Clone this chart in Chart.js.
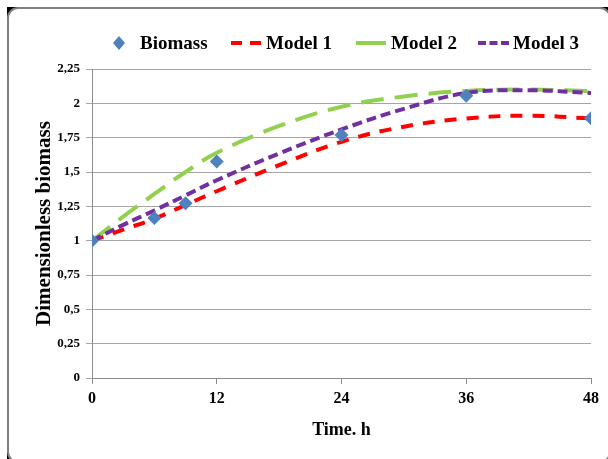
<!DOCTYPE html>
<html>
<head>
<meta charset="utf-8">
<script src="https://cdn.jsdelivr.net/npm/chart.js@4.4.1/dist/chart.umd.min.js"></script>
<style>
  html, body { margin: 0; padding: 0; background: #fff; }
  body { width: 608px; height: 459px; position: relative; overflow: hidden; }
  #frame { position: absolute; left: 7px; top: 7px; width: 604px; height: 456px; background: #000; }
  #frame .inner { width: 100%; height: 100%; box-sizing: border-box; background: #fff;
                  border: 2px solid #808080; border-radius: 11px; }
  #wrap { position: absolute; left: 0; top: 0; width: 608px; height: 459px; }
</style>
</head>
<body>
<div id="frame"><div class="inner"></div></div>
<div id="wrap"><canvas id="chart" width="608" height="459"></canvas></div>
<script>
// measured biomass (diamonds)
const hours = [0, 6, 9, 12, 24, 36, 48];
const biomass = [1.0, 1.165, 1.272, 1.577, 1.77, 2.056, 1.891];

// model curves
const modelHours = [0, 3, 6, 9, 12, 18, 24, 30, 36, 42, 48];
const model1 = [1.0, 1.08, 1.16, 1.26, 1.36, 1.55, 1.72, 1.83, 1.89, 1.91, 1.89];
const model2 = [1.0, 1.175, 1.34, 1.5, 1.64, 1.835, 1.975, 2.05, 2.09, 2.10, 2.09];
const model3 = [1.0, 1.115, 1.22, 1.33, 1.44, 1.635, 1.81, 1.96, 2.075, 2.095, 2.075];

const xTicks = [0, 12, 24, 36, 48];
const yTicks = [0, 0.25, 0.5, 0.75, 1, 1.25, 1.5, 1.75, 2, 2.25];
const seriesNames = ['Biomass', 'Model 1', 'Model 2', 'Model 3'];

const SERIF = "'Liberation Serif', 'Times New Roman', serif";
const BLUE = '#4F81BD', RED = '#FF0000', GREEN = '#92D050', PURPLE = '#7030A0';

const pts = (xs, ys) => xs.map((x, i) => ({ x: x, y: ys[i] }));

// legend drawn by hand so spacing matches the original
const legendPlugin = {
    id: 'topLegend',
    afterDraw(chart) {
        const ctx = chart.ctx;
        const y = 43;
        const items = [
            { sx: 113, ex: 125, text: 140 },
            { sx: 231, ex: 262, text: 266 },
            { sx: 356, ex: 386, text: 391 },
            { sx: 478, ex: 509, text: 513 }
        ];
        ctx.save();
        ctx.font = 'bold 19px ' + SERIF;
        ctx.textBaseline = 'middle';
        chart.data.datasets.forEach((ds, i) => {
            const it = items[i];
            if (ds.showLine === false) {
                const cx = (it.sx + it.ex) / 2, r = 6;
                ctx.fillStyle = ds.pointBackgroundColor;
                ctx.beginPath();
                ctx.moveTo(cx - r, y); ctx.lineTo(cx, y - r - 1);
                ctx.lineTo(cx + r, y); ctx.lineTo(cx, y + r + 1);
                ctx.closePath(); ctx.fill();
            } else {
                ctx.strokeStyle = ds.borderColor;
                ctx.lineWidth = ds.borderWidth;
                ctx.setLineDash(ds.legendDash);
                ctx.beginPath();
                ctx.moveTo(it.sx, y); ctx.lineTo(it.ex, y);
                ctx.stroke();
                ctx.setLineDash([]);
            }
            ctx.fillStyle = '#000';
            ctx.fillText(seriesNames[i], it.text, y + 1);
        });
        ctx.restore();
    }
};

const lineSet = (i, values, color, dash, legendDash, order) => ({
    label: seriesNames[i],
    data: pts(modelHours, values),
    showLine: true,
    borderColor: color,
    borderWidth: 4,
    borderDash: dash,
    legendDash: legendDash,
    pointRadius: 0,
    tension: 0.4,
    order: order
});

new Chart(document.getElementById('chart'), {
    type: 'scatter',
    data: {
        datasets: [
            {
                label: seriesNames[0],
                data: pts(hours, biomass),
                showLine: false,
                pointStyle: 'rectRot',
                pointRadius: 7,
                pointBackgroundColor: BLUE,
                pointBorderColor: BLUE,
                pointBorderWidth: 0,
                order: 0
            },
            lineSet(1, model1, RED, [12, 10], [11, 8], 3),
            lineSet(2, model2, GREEN, [23, 11], [], 2),
            lineSet(3, model3, PURPLE, [10, 5], [8, 3.5], 1)
        ]
    },
    options: {
        responsive: false,
        animation: false,
        layout: { padding: { left: 0, right: 17, top: 69, bottom: 0 } },
        plugins: {
            legend: { display: false },
            tooltip: { enabled: false }
        },
        scales: {
            x: {
                type: 'linear',
                min: 0,
                max: 48,
                afterBuildTicks: (s) => { s.ticks = xTicks.map(v => ({ value: v })); },
                afterFit: (s) => { s.height = 81; },
                grid: { drawOnChartArea: false, drawTicks: true, tickLength: 6, color: '#8c8c8c' },
                border: { color: '#8c8c8c', width: 1 },
                ticks: {
                    color: '#000',
                    padding: 5,
                    maxRotation: 0,
                    font: { family: SERIF, size: 16, weight: 'bold' }
                },
                title: {
                    display: true,
                    text: 'Time. h',
                    color: '#000',
                    padding: { top: 0, bottom: 18 },
                    font: { family: SERIF, size: 18, weight: 'bold' }
                }
            },
            y: {
                type: 'linear',
                min: 0,
                max: 2.25,
                afterBuildTicks: (s) => { s.ticks = yTicks.map(v => ({ value: v })); },
                afterFit: (s) => { s.width = 92; },
                grid: { drawOnChartArea: true, drawTicks: true, tickLength: 6, color: '#a6a6a6' },
                border: { color: '#8c8c8c', width: 1 },
                ticks: {
                    color: '#000',
                    padding: 6,
                    font: { family: SERIF, size: 13, weight: 'bold' },
                    callback: (v) => String(v).replace('.', ',')
                },
                title: {
                    display: true,
                    text: 'Dimensionless biomass',
                    color: '#000',
                    padding: { top: 32, bottom: 0 },
                    font: { family: SERIF, size: 21, weight: 'bold' }
                }
            }
        }
    },
    plugins: [legendPlugin]
});
</script>
</body>
</html>
